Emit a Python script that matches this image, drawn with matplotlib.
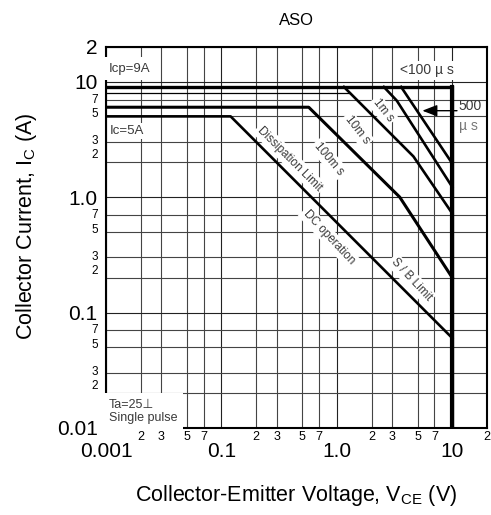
import matplotlib
matplotlib.use("Agg")
import matplotlib.pyplot as plt

plt.rcParams["font.family"] = ["Liberation Sans", "DejaVu Sans"]
plt.rcParams["mathtext.default"] = "regular"

TEXT_GRAY = "#3a3a3a"

# safe operating area curves (V_CE in volts, I_C in amps)
boundary_v = [0.01, 10, 10]
boundary_i = [9, 9, 0.01]
pulse_500us_v = [3.6, 10]
pulse_500us_i = [9, 1.95]
pulse_1ms_v = [2.55, 3.3, 10]
pulse_1ms_i = [9, 6.85, 1.22]
pulse_10ms_v = [1.15, 4.6, 10]
pulse_10ms_i = [9, 2.25, 0.72]
pulse_100ms_v = [0.01, 0.57, 3.5, 10]
pulse_100ms_i = [6, 6, 1.0, 0.2]
dc_v = [0.01, 0.12, 10]
dc_i = [5, 5, 0.06]
thin_v = [0.01, 1.29]
thin_i = [8, 8]

x_major = [0.01, 0.1, 1, 10]
x_major_labels = ["0.001", "0.1", "1.0", "10"]
x_minor = [m * d for d in (0.01, 0.1, 1) for m in (2, 3, 5, 7)] + [20]
x_minor_labels = ["2", "3", "5", "7"] * 3 + ["2"]
y_major = [0.01, 0.1, 1, 10, 20]
y_major_labels = ["0.01", "0.1", "1.0", "10", "2"]
y_minor = [m * d for d in (0.01, 0.1, 1) for m in (2, 3, 5, 7)]
y_minor_labels = ["2", "3", "5", "7"] * 3
# where the small y labels sit (they are bunched toward the decade labels)
y_minor_label_pos = [m * d for d in (0.01, 0.1, 1) for m in (2.3, 3.05, 5.2, 7.0)]

fig = plt.figure(figsize=(4.91, 5.15), dpi=100)
ax = fig.add_axes([0.216, 0.169, 0.776, 0.740])
ax.set_xscale("log")
ax.set_yscale("log")
ax.set_xlim(0.01, 20)
ax.set_ylim(0.01, 20)

ax.set_xticks(x_major)
ax.set_xticklabels(x_major_labels)
ax.set_xticks(x_minor, minor=True)
ax.set_xticklabels(x_minor_labels, minor=True)
ax.set_yticks(y_major)
ax.set_yticklabels(y_major_labels)
ax.set_yticks(y_minor, minor=True)
ax.set_yticklabels([], minor=True)

ax.tick_params(axis="x", which="major", length=0, pad=10, labelsize=15)
ax.tick_params(axis="x", which="minor", length=0, pad=2, labelsize=9)
ax.tick_params(axis="y", which="major", length=0, pad=6, labelsize=15)
ax.tick_params(axis="y", which="minor", length=0)

for pos, lab in zip(y_minor_label_pos, y_minor_labels):
    ax.text(-0.02, pos, lab, transform=ax.get_yaxis_transform(),
            ha="right", va="center", fontsize=8.5)

ax.set_axisbelow(True)
ax.grid(which="major", color="#222222", lw=0.8)
ax.grid(which="minor", color="#444444", lw=0.8)
for s in ax.spines.values():
    s.set_linewidth(1.5)

ax.plot(boundary_v, boundary_i, color="black", lw=2.4, zorder=5, solid_joinstyle="miter")
ax.plot(pulse_500us_v, pulse_500us_i, color="black", lw=1.9, zorder=5)
ax.plot(pulse_1ms_v, pulse_1ms_i, color="black", lw=1.9, zorder=5)
ax.plot(pulse_10ms_v, pulse_10ms_i, color="black", lw=1.9, zorder=5)
ax.plot(pulse_100ms_v, pulse_100ms_i, color="black", lw=2.2, zorder=5)
ax.plot(dc_v, dc_i, color="black", lw=1.9, zorder=5)
ax.plot(thin_v, thin_i, color="black", lw=0.9, zorder=5)
ax.plot([10, 10], [9, 0.01], color="black", lw=3, zorder=5)

box = dict(facecolor="white", edgecolor="none", pad=1.5)
ax.text(0.0106, 12.9, "Icp=9A", fontsize=9.5, color=TEXT_GRAY, va="center",
        bbox=dict(facecolor="white", edgecolor="none", pad=4), zorder=3)
ax.text(0.0108, 3.75, "Ic=5A", fontsize=9.5, color=TEXT_GRAY, va="center", bbox=box, zorder=3)
ax.text(0.0106, 0.0108, "Ta=25\u22a5\nSingle pulse", fontsize=9, color=TEXT_GRAY, va="bottom",
        linespacing=1.15, bbox=dict(facecolor="white", edgecolor="none", pad=4), zorder=3)
ax.text(6.0, 12.5, "<100 \u00b5 s", fontsize=10, color=TEXT_GRAY, ha="center", va="center",
        bbox=box, zorder=3)
ax.text(11.4, 6.1, "500", fontsize=10, color=TEXT_GRAY, ha="left", va="center", zorder=3)
ax.text(11.4, 4.1, "\u00b5 s", fontsize=10, color="#777777", ha="left", va="center", zorder=3)
ax.annotate("", xy=(5.2, 5.6), xytext=(11.6, 5.6), zorder=6,
            arrowprops=dict(arrowstyle="-|>,head_length=0.9,head_width=0.35", color="black", lw=1.0))

curve_labels = [
    ("Dissipation Limit", 0.39, 2.14, -45),
    ("DC operation", 0.85, 0.45, -47),
    ("S / B Limit", 4.4, 0.194, -47),
    ("100m s", 0.85, 2.14, -50),
    ("10m s", 1.49, 3.83, -52),
    ("1m s", 2.5, 5.6, -52),
]
for lab, xv, yv, rot in curve_labels:
    ax.text(xv, yv, lab, fontsize=8.5, color=TEXT_GRAY, rotation=rot, ha="center", va="center",
            rotation_mode="anchor", bbox=box, zorder=3)

ax.set_title("ASO", fontsize=12, pad=16)
ax.set_xlabel("Collector-Emitter Voltage, $V_{CE}$ (V)", fontsize=15.5, labelpad=16)
ax.set_ylabel("Collector Current, $I_C$ (A)", fontsize=15.5)
ax.yaxis.set_label_coords(-0.175, 0.53)

fig.savefig("out.png", dpi=100)
